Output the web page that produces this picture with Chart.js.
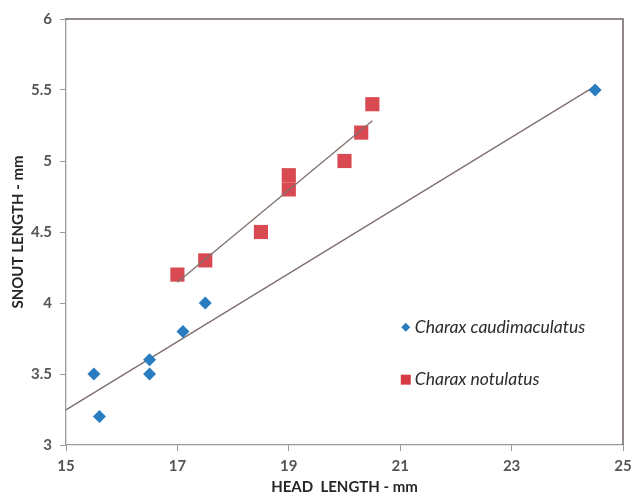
<!DOCTYPE html>
<html>
<head>
<meta charset="utf-8">
<script src="https://cdn.jsdelivr.net/npm/chart.js@4"></script>
<style>
    html, body { margin: 0; padding: 0; background: #fff; }
    #wrap { width: 633px; height: 497px; }
</style>
</head>
<body>
<div id="wrap"><canvas id="chart"></canvas></div>
<script>
// --- Datos ---
const caudimaculatusX = [15.5, 15.6, 16.5, 16.5, 17.1, 17.5, 24.5];
const caudimaculatusY = [3.5, 3.2, 3.6, 3.5, 3.8, 4.0, 5.5];
const notulatusX = [17, 17.5, 18.5, 19, 19, 20, 20.3, 20.5];
const notulatusY = [4.2, 4.3, 4.5, 4.8, 4.9, 5.0, 5.2, 5.4];
const seriesNames = ['Charax caudimaculatus', 'Charax notulatus'];
const xTicks = [15, 17, 19, 21, 23, 25];
const yTicks = [3, 3.5, 4, 4.5, 5, 5.5, 6];

const blue = '#2a7cc0';
const red = '#d63a42';
const lineColor = '#7f706c';

// recta de mínimos cuadrados
function fit(xs, ys) {
    const n = xs.length;
    const mx = xs.reduce((a, b) => a + b, 0) / n;
    const my = ys.reduce((a, b) => a + b, 0) / n;
    let sxy = 0, sxx = 0;
    for (let i = 0; i < n; i++) {
        sxy += (xs[i] - mx) * (ys[i] - my);
        sxx += (xs[i] - mx) * (xs[i] - mx);
    }
    const m = sxy / sxx;
    return x => my + m * (x - mx);
}
function trend(xs, ys, from, to) {
    const f = fit(xs, ys);
    return [{ x: from, y: f(from) }, { x: to, y: f(to) }];
}
const toPoints = (xs, ys) => xs.map((x, i) => ({ x: x, y: ys[i] }));

// marco superior/derecho y leyenda dentro del área
const framePlugin = {
    id: 'frame',
    afterDatasetsDraw(chart) {
        const { ctx, chartArea: a } = chart;
        ctx.save();
        ctx.strokeStyle = '#6e6462';
        ctx.lineWidth = 1.5;
        ctx.beginPath();
        ctx.moveTo(a.left, a.top);
        ctx.lineTo(a.right, a.top);
        ctx.lineTo(a.right, a.bottom);
        ctx.stroke();

        // leyenda
        const lx = chart.scales.x.getPixelForValue(21.1);
        const rows = [chart.scales.y.getPixelForValue(3.83), chart.scales.y.getPixelForValue(3.46)];
        ctx.font = 'italic 17.5px Lato';
        ctx.textBaseline = 'middle';
        rows.forEach((y, i) => {
            ctx.fillStyle = i === 0 ? blue : red;
            if (i === 0) {
                ctx.beginPath();
                ctx.moveTo(lx, y - 4.5);
                ctx.lineTo(lx + 4.5, y);
                ctx.lineTo(lx, y + 4.5);
                ctx.lineTo(lx - 4.5, y);
                ctx.closePath();
                ctx.fill();
            } else {
                ctx.fillRect(lx - 5, y - 5, 10, 10);
            }
            ctx.fillStyle = '#2b2b2b';
            ctx.fillText(seriesNames[i], lx + 9, y);
        });
        ctx.restore();
    }
};

const ctx = document.getElementById('chart').getContext('2d');
new Chart(ctx, {
    type: 'scatter',
    data: {
        datasets: [
            {
                label: seriesNames[0] + ' trend',
                type: 'line',
                data: trend(caudimaculatusX, caudimaculatusY, 15, 24.5),
                borderColor: lineColor,
                borderWidth: 1.3,
                pointRadius: 0,
                fill: false
            },
            {
                label: seriesNames[1] + ' trend',
                type: 'line',
                data: trend(notulatusX, notulatusY, 17, 20.5),
                borderColor: lineColor,
                borderWidth: 1.3,
                pointRadius: 0,
                fill: false
            },
            {
                label: seriesNames[0],
                data: toPoints(caudimaculatusX, caudimaculatusY),
                pointStyle: 'rectRot',
                pointRadius: 6.5,
                backgroundColor: blue,
                borderWidth: 0,
                order: -1
            },
            {
                label: seriesNames[1],
                data: toPoints(notulatusX, notulatusY),
                pointStyle: 'rect',
                pointRadius: 10,
                backgroundColor: 'rgba(214, 58, 66, 0.92)',
                borderWidth: 0,
                order: 1
            }
        ]
    },
    options: {
        responsive: true,
        maintainAspectRatio: false,
        animation: false,
        layout: { padding: { top: 19, right: 7, left: 0, bottom: 0 } },
        plugins: {
            legend: { display: false },
            tooltip: { enabled: false }
        },
        scales: {
            x: {
                type: 'linear',
                min: 15,
                max: 25,
                afterBuildTicks: s => { s.ticks = xTicks.map(v => ({ value: v })); },
                afterFit: s => { s.height = 52; s.paddingRight = 0; s.paddingLeft = 0; },
                grid: { drawOnChartArea: false, tickLength: 6, color: '#999' },
                border: { color: '#9a9a9a', width: 1.3 },
                ticks: { color: '#555', font: { family: 'Lato', size: 15, weight: 'bold' }, padding: 6 },
                title: {
                    display: true,
                    text: 'HEAD  LENGTH - mm',
                    color: '#262626',
                    font: { family: 'Lato', size: 15, weight: 'bold' },
                    padding: { top: 0, bottom: 1 }
                }
            },
            y: {
                type: 'linear',
                min: 3,
                max: 6,
                afterBuildTicks: s => { s.ticks = yTicks.map(v => ({ value: v })); },
                afterFit: s => { s.width = 66; },
                grid: { drawOnChartArea: false, tickLength: 6, color: '#999' },
                border: { color: '#9a9a9a', width: 1.3 },
                ticks: {
                    color: '#555',
                    font: { family: 'Lato', size: 15, weight: 'bold' },
                    padding: 8,
                    callback: v => String(v)
                },
                title: {
                    display: true,
                    text: 'SNOUT LENGTH - mm',
                    color: '#262626',
                    font: { family: 'Lato', size: 15, weight: 'bold' },
                    padding: { top: 9, bottom: 0 }
                }
            }
        }
    },
    plugins: [framePlugin]
});
</script>
</body>
</html>
